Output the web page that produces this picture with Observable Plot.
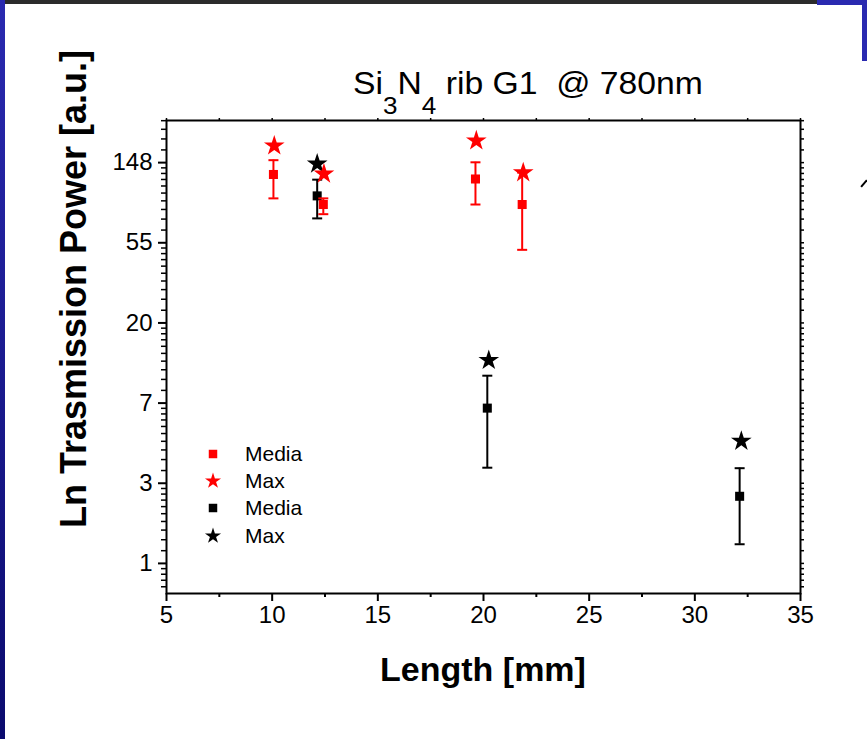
<!DOCTYPE html>
<html><head><meta charset="utf-8">
<script src="https://cdn.jsdelivr.net/npm/d3@7"></script>
<script src="https://cdn.jsdelivr.net/npm/@observablehq/plot@0.6"></script>
<style>
html,body{margin:0;padding:0;background:#fff;}
#wrap{position:relative;width:867px;height:739px;overflow:hidden;font-family:"Liberation Sans",Arial,sans-serif;}
#wrap svg{position:absolute;left:0;top:0;}
.deco{position:absolute;}
</style></head><body><div id="wrap">
<div class="deco" style="left:0;top:0;width:867px;height:4px;background:#2b2b2b;"></div>
<div class="deco" style="left:0;top:0;width:5px;height:739px;background:linear-gradient(#2a2ab0,#0b0b6e);"></div>
<div class="deco" style="left:817px;top:0;width:50px;height:5px;background:#2a2ab0;"></div>
<div class="deco" style="left:862px;top:0;width:5px;height:61px;background:#2a2ab0;"></div>
<div class="deco" style="left:863px;top:179px;width:2px;height:9px;background:#000;transform:rotate(40deg);"></div>
</div>
<script>
// ---- data ----
const redMediaX  = [10.06, 12.42, 19.62, 21.83];
const redMediaY  = [128, 88, 121, 88];
const redMediaLo = [95, 78, 88, 50];
const redMediaHi = [153, 95, 149, 131];
const redMaxX    = [10.1, 12.45, 19.66, 21.88];
const redMaxY    = [183, 129, 195, 131];
const blackMediaX  = [12.13, 20.18, 32.12];
const blackMediaY  = [98, 6.94, 2.31];
const blackMediaLo = [74, 3.30, 1.27];
const blackMediaHi = [120, 10.4, 3.28];
const blackMaxX    = [12.13, 20.25, 32.2];
const blackMaxY    = [146, 12.6, 4.6];
const xTicks = [5, 10, 15, 20, 25, 30, 35];
const xMinorTicks = [7.5, 12.5, 17.5, 22.5, 27.5, 32.5];
const yTickExponents = [0, 1, 2, 3, 4, 5];
const yTickLabels = ["1", "3", "7", "20", "55", "148"];
const legendLabels = ["Media", "Max", "Media", "Max"];
const legendColors = ["#ff0000", "#ff0000", "#000000", "#000000"];
const legendSymbols = ["square", "star", "square", "star"];

// ---- tables ----
const RED = "#ff0000", BLACK = "#000000";
const toMedia = (X, Y, L, H) => X.map((x, i) => ({x, y: Y[i], lo: L[i], hi: H[i]}));
const toMax = (X, Y) => X.map((x, i) => ({x, y: Y[i]}));
const redMedia = toMedia(redMediaX, redMediaY, redMediaLo, redMediaHi);
const redMax = toMax(redMaxX, redMaxY);
const blackMedia = toMedia(blackMediaX, blackMediaY, blackMediaLo, blackMediaHi);
const blackMax = toMax(blackMaxX, blackMaxY);

const yTicks = yTickExponents.map(Math.exp);
const yTickTable = yTicks.map((v, i) => ({v, label: yTickLabels[i]}));
const yMinor = [];
for (let n = -1; n <= 5; n++) {
  const a = Math.exp(n), b = Math.exp(n + 1);
  for (let k = 1; k < 10; k++) { const v = a + k * (b - a) / 10; if (v > 0.687 && v < 251) yMinor.push(v); }
}

const capSymbol = {draw(ctx, size) { const r = Math.sqrt(size / Math.PI); ctx.moveTo(-r, 0); ctx.lineTo(r, 0); }};

function series(media, max, color) {
  return [
    Plot.ruleX(media, {x: "x", y1: "lo", y2: "hi", stroke: color, strokeWidth: 2}),
    Plot.dot(media, {x: "x", y: "lo", symbol: capSymbol, r: 5, stroke: color, strokeWidth: 2, fill: "none"}),
    Plot.dot(media, {x: "x", y: "hi", symbol: capSymbol, r: 5, stroke: color, strokeWidth: 2, fill: "none"}),
    Plot.dot(media, {x: "x", y: "y", symbol: "square", r: 5.1, fill: color}),
    Plot.dot(max, {x: "x", y: "y", symbol: "star", r: 6.5, fill: color})
  ];
}

const blank = () => "";
const svg = Plot.plot({
  width: 867, height: 739,
  marginLeft: 166, marginRight: 67, marginTop: 120, marginBottom: 146,
  style: {fontFamily: "Liberation Sans, Arial, sans-serif", fontSize: "24px", background: "transparent", color: "black"},
  x: {domain: [5, 35]},
  y: {type: "log", domain: [0.687, 251]},
  marks: [
    Plot.axisX({ticks: xTicks, tickSize: 8, tickPadding: 4, strokeWidth: 2, fontSize: 24, tickFormat: d3.format("d"), label: null}),
    Plot.axisX({ticks: xMinorTicks, tickSize: 4, strokeWidth: 2, tickFormat: blank, label: null}),
    Plot.axisX({anchor: "top", ticks: xTicks.concat(xMinorTicks), tickSize: 3, strokeWidth: 1.5, tickFormat: blank, label: null}),
    Plot.axisY({ticks: yTicks, tickSize: 8, strokeWidth: 2, tickFormat: blank, label: null}),
    Plot.text(yTickTable, {y: "v", text: "label", frameAnchor: "left", textAnchor: "end", dx: -14, fontSize: 24}),
    Plot.axisY({ticks: yMinor, tickSize: 5, strokeWidth: 1.5, tickFormat: blank, label: null}),
    Plot.axisY({anchor: "right", ticks: yTicks.concat(yMinor), tickSize: 3, strokeWidth: 1.5, tickFormat: blank, label: null}),
    Plot.frame({stroke: "black", strokeWidth: 2}),
    ...series(blackMedia, blackMax, BLACK),
    ...series(redMedia, redMax, RED)
  ]
});
document.getElementById("wrap").appendChild(svg);

const S = d3.select(svg);
// title
const t = S.append("text").attr("x", 353).attr("y", 94).attr("font-size", 31).attr("fill", "black")
  .attr("text-anchor", "start").style("white-space", "pre");
t.append("tspan").text("Si");
t.append("tspan").attr("font-size", 24).attr("dy", 20).text("3");
t.append("tspan").attr("dy", -20).text("N");
t.append("tspan").attr("font-size", 24).attr("dy", 20).text("4");
t.append("tspan").attr("dy", -20).text("\u00a0rib G1\u00a0\u00a0@ 780nm");
{
  const bb = t.node().getBBox();
  const sx = 350 / bb.width;
  t.attr("transform", `translate(353,0) scale(${sx},1) translate(-353,0)`);
}
// axis labels
S.append("text").attr("transform", "translate(86,289) rotate(-90)").attr("text-anchor", "middle")
  .attr("font-size", 36).attr("font-weight", "bold").attr("fill", "black").text("Ln Trasmission Power [a.u.]");
S.append("text").attr("x", 483).attr("y", 681).attr("text-anchor", "middle")
  .attr("font-size", 34).attr("font-weight", "bold").attr("fill", "black").text("Length [mm]");
// legend
const rowY = [454, 481, 508, 536];
legendLabels.forEach((lab, i) => {
  const sym = legendSymbols[i] === "square" ? d3.symbol(d3.symbolSquare, 72) : d3.symbol(d3.symbolStar, 80);
  S.append("path").attr("d", sym()).attr("transform", `translate(213,${rowY[i]})`).attr("fill", legendColors[i]);
  S.append("text").attr("x", 245).attr("y", rowY[i] + 7).attr("text-anchor", "start")
    .attr("font-size", 21).attr("fill", "black").text(lab);
});
</script></body></html>
